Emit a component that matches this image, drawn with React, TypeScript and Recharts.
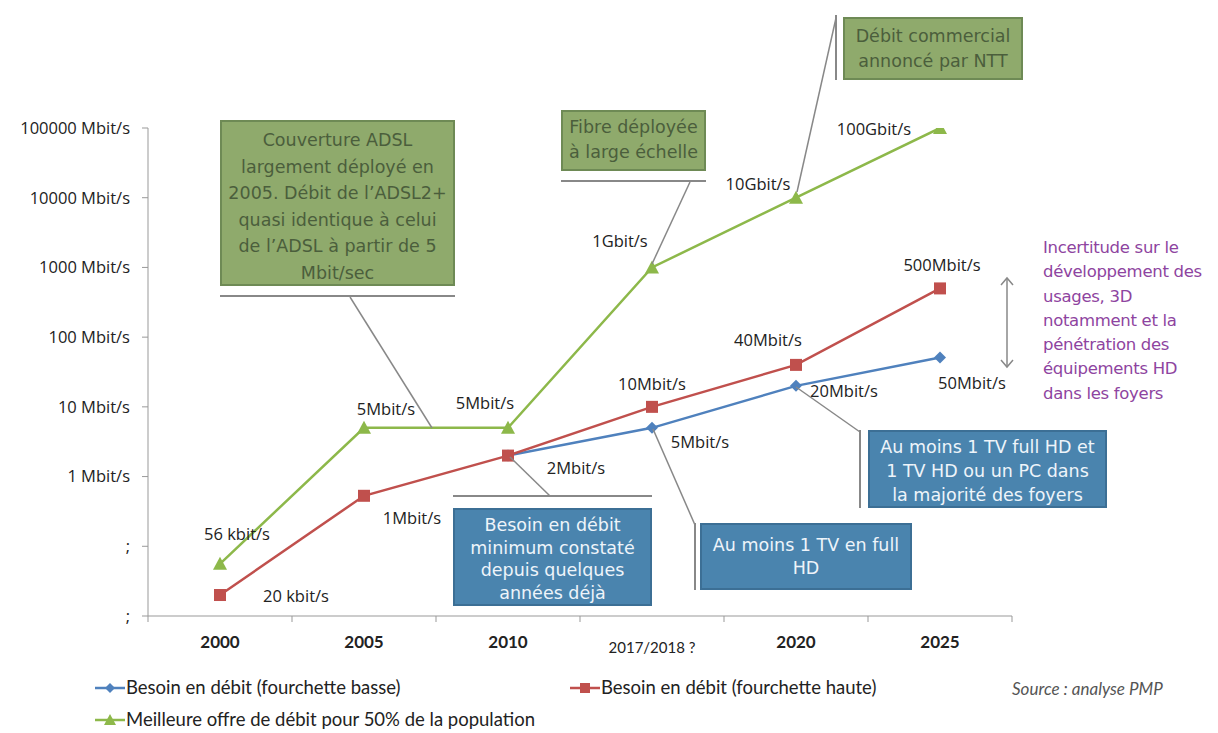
import { LineChart, Line, XAxis, YAxis, Legend, LabelList } from 'recharts';

const YEARS = ['2000', '2005', '2010', '2017/2018 ?', '2020', '2025'];
const LOW_NEED = [null, null, 2, 5, 20, 51];
const HIGH_NEED = [0.02, 0.53, 2, 10, 40, 500];
const BEST_OFFER = [0.056, 5, 5, 1000, 10000, 100000];

const LOW_LABELS = ['', '', '', '5Mbit/s', '20Mbit/s', '50Mbit/s'];
const HIGH_LABELS = ['20 kbit/s', '1Mbit/s', '2Mbit/s', '10Mbit/s', '40Mbit/s', '500Mbit/s'];
const OFFER_LABELS = ['56 kbit/s', '5Mbit/s', '5Mbit/s', '1Gbit/s', '10Gbit/s', '100Gbit/s'];

const Y_TICKS = [0.01, 0.1, 1, 10, 100, 1000, 10000, 100000];

const SERIES_NAMES = {
  low: 'Besoin en débit (fourchette basse)',
  high: 'Besoin en débit (fourchette haute)',
  offer: 'Meilleure offre de débit pour 50% de la population',
};

// label offsets from each point, [dx, dy]
const LOW_OFFSETS = [[0, 0], [0, 0], [0, 0], [48, 14], [48, 5], [32, 25]];
const HIGH_OFFSETS = [[76, 0], [48, 22], [68, 12], [0, -23], [-28, -25], [2, -24]];
const OFFER_OFFSETS = [[17, -30], [22, -19], [-23, -25], [-32, -27], [-38, -14], [-66, 0]];

const BLUE = '#4F81BD';
const RED = '#C0504D';
const GREEN = '#8DB84A';
const LABEL_FONT = '"Open Sans", Lato, sans-serif';
const CAL_FONT = 'Lato, "Open Sans", sans-serif';
const BOX_FONT = '"DejaVu Sans", sans-serif';

const data = YEARS.map((year, i) => ({
  year,
  low: LOW_NEED[i],
  high: HIGH_NEED[i],
  offer: BEST_OFFER[i],
}));

const BAND = 144;

function yTickLabel(v: number) {
  if (v < 1) return ';';
  return `${v} Mbit/s`;
}

function XTick(props: any) {
  const { x, y, payload, index } = props;
  const odd = payload.value.includes('/');
  return (
    <g>
      <line x1={x - BAND / 2} x2={x - BAND / 2} y1={y - 8} y2={y - 2} stroke="#999" />
      {index === YEARS.length - 1 && (
        <line x1={x + BAND / 2} x2={x + BAND / 2} y1={y - 8} y2={y - 2} stroke="#999" />
      )}
      <text
        x={x}
        y={odd ? y + 29 : y + 24}
        textAnchor="middle"
        fontFamily={CAL_FONT}
        fontSize={odd ? 15 : 17}
        fontWeight={odd ? 400 : 700}
        fill="#222"
      >
        {payload.value}
      </text>
    </g>
  );
}

function Triangle({ cx, cy }: any) {
  if (cx == null || cy == null) return null;
  return <path d={`M${cx},${cy - 7} L${cx + 7},${cy + 6} L${cx - 7},${cy + 6} Z`} fill={GREEN} />;
}

function Square({ cx, cy }: any) {
  if (cx == null || cy == null) return null;
  return <rect x={cx - 6} y={cy - 6} width={12} height={12} fill={RED} />;
}

function Diamond({ cx, cy }: any) {
  if (cx == null || cy == null) return null;
  return <path d={`M${cx},${cy - 6} L${cx + 6},${cy} L${cx},${cy + 6} L${cx - 6},${cy} Z`} fill={BLUE} />;
}

function makeLabel(texts: string[], offsets: number[][]) {
  return (props: any) => {
    const { x, y, index } = props;
    const t = texts[index];
    if (!t || x == null || y == null) return null;
    const [dx, dy] = offsets[index];
    return (
      <text
        x={x + dx}
        y={y + dy}
        textAnchor="middle"
        dominantBaseline="central"
        fontFamily={LABEL_FONT}
        fontSize={16.5}
        fill="#222"
      >
        {t}
      </text>
    );
  };
}

function LegendMark({ color, shape }: { color: string; shape: string }) {
  return (
    <svg width={32} height={14} style={{ verticalAlign: 'middle', marginTop: -3 }}>
      <line x1={1} x2={31} y1={7} y2={7} stroke={color} strokeWidth={2.5} />
      {shape === 'diamond' && <path d="M16,2 L21,7 L16,12 L11,7 Z" fill={color} />}
      {shape === 'square' && <rect x={11} y={2} width={10} height={10} fill={color} />}
      {shape === 'triangle' && <path d="M16,1 L22,12 L10,12 Z" fill={color} />}
    </svg>
  );
}

function renderLegend() {
  const item = { position: 'absolute' as const, whiteSpace: 'nowrap' as const, fontSize: 18.5, color: '#222', fontFamily: CAL_FONT };
  return (
    <div style={{ position: 'relative', width: 1218, height: 0 }}>
      <div style={{ ...item, left: 94, top: -2 }}>
        <LegendMark color={BLUE} shape="diamond" />
        {SERIES_NAMES.low}
      </div>
      <div style={{ ...item, left: 569, top: -2 }}>
        <LegendMark color={RED} shape="square" />
        {SERIES_NAMES.high}
      </div>
      <div style={{ ...item, left: 94, top: 30 }}>
        <LegendMark color={GREEN} shape="triangle" />
        {SERIES_NAMES.offer}
      </div>
      <div style={{ ...item, left: 1012, top: 0, fontStyle: 'italic', fontSize: 17, color: '#555' }}>
        Source : analyse PMP
      </div>
    </div>
  );
}

const greenBox = {
  position: 'absolute' as const,
  background: '#8FAA6C',
  border: '2px solid #6E8A55',
  color: '#4B5E3C',
  fontFamily: BOX_FONT,
  textAlign: 'center' as const,
  boxSizing: 'border-box' as const,
  whiteSpace: 'nowrap' as const,
};

const blueBox = {
  position: 'absolute' as const,
  background: '#4A84AE',
  border: '2px solid #3C6F95',
  color: '#EEF4FA',
  fontFamily: BOX_FONT,
  textAlign: 'center' as const,
  boxSizing: 'border-box' as const,
  whiteSpace: 'nowrap' as const,
};

export default function App() {
  return (
    <div style={{ position: 'relative', left: -8, top: -8, width: 1218, height: 733, background: '#fff', overflow: 'hidden' }}>
      <LineChart
        width={1218}
        height={733}
        data={data}
        margin={{ top: 128, right: 206, bottom: 87, left: 0 }}
      >
        <XAxis
          dataKey="year"
          tick={<XTick />}
          tickLine={false}
          axisLine={{ stroke: '#999' }}
          height={30}
          interval={0}
          padding={{ left: 72, right: 72 }}
        />
        <YAxis
          scale="log"
          domain={[0.01, 100000]}
          ticks={Y_TICKS}
          allowDataOverflow
          width={148}
          tickFormatter={yTickLabel}
          axisLine={{ stroke: '#999' }}
          tickLine={{ stroke: '#999' }}
          tickSize={6}
          tickMargin={12}
          tick={{ fontFamily: LABEL_FONT, fontSize: 16.5, fill: '#222' }}
        />
        <Legend
          content={renderLegend}
          wrapperStyle={{ position: 'absolute', left: 0, top: 678, width: 1218, height: 0 }}
        />
        <Line
          dataKey="offer"
          name={SERIES_NAMES.offer}
          stroke={GREEN}
          strokeWidth={2.5}
          dot={<Triangle />}
          activeDot={false}
          isAnimationActive={false}
        >
          <LabelList dataKey="offer" content={makeLabel(OFFER_LABELS, OFFER_OFFSETS)} />
        </Line>
        <Line
          dataKey="low"
          name={SERIES_NAMES.low}
          stroke={BLUE}
          strokeWidth={2.5}
          dot={<Diamond />}
          activeDot={false}
          isAnimationActive={false}
        >
          <LabelList dataKey="low" content={makeLabel(LOW_LABELS, LOW_OFFSETS)} />
        </Line>
        <Line
          dataKey="high"
          name={SERIES_NAMES.high}
          stroke={RED}
          strokeWidth={2.5}
          dot={<Square />}
          activeDot={false}
          isAnimationActive={false}
        >
          <LabelList dataKey="high" content={makeLabel(HIGH_LABELS, HIGH_OFFSETS)} />
        </Line>
      </LineChart>

      {/* leader lines and separators */}
      <svg width={1218} height={733} style={{ position: 'absolute', left: 0, top: 0, pointerEvents: 'none' }}>
        <g stroke="#888" strokeWidth={1.5} fill="none">
          <line x1={220} x2={455} y1={296} y2={296} strokeWidth={2} />
          <line x1={350} x2={432} y1={297} y2={428} />
          <line x1={561} x2={706} y1={181} y2={181} strokeWidth={2} />
          <line x1={690} x2={652} y1={182} y2={264} />
          <line x1={836} x2={836} y1={15} y2={80} strokeWidth={2} />
          <line x1={836} x2={797} y1={18} y2={192} />
          <line x1={453} x2={652} y1={496} y2={496} strokeWidth={2} />
          <line x1={510} x2={550} y1={457} y2={496} />
          <line x1={695} x2={695} y1={523} y2={590} strokeWidth={2} />
          <line x1={653} x2={695} y1={429} y2={525} />
          <line x1={860} x2={860} y1={430} y2={508} strokeWidth={2} />
          <line x1={796} x2={860} y1={387} y2={432} />
          <line x1={1007} x2={1007} y1={278} y2={367} />
          <path d="M1001,285 L1007,278 L1013,285" />
          <path d="M1001,360 L1007,367 L1013,360" />
        </g>
      </svg>

      <div style={{ ...greenBox, left: 220, top: 120, width: 235, height: 166, fontSize: 17.5, lineHeight: '26.5px', paddingTop: 5 }}>
        Couverture ADSL<br />largement déployé en<br />2005. Débit de l’ADSL2+<br />quasi identique à celui<br />de l’ADSL à partir de 5<br />Mbit/sec
      </div>
      <div style={{ ...greenBox, left: 561, top: 110, width: 145, height: 61, fontSize: 17.5, lineHeight: '25px', paddingTop: 3 }}>
        Fibre déployée<br />à large échelle
      </div>
      <div style={{ ...greenBox, left: 843, top: 17, width: 180, height: 63, fontSize: 17.5, lineHeight: '25px', paddingTop: 5 }}>
        Débit commercial<br />annoncé par NTT
      </div>
      <div style={{ ...blueBox, left: 453, top: 508, width: 199, height: 98, fontSize: 17.5, lineHeight: '22.5px', paddingTop: 4 }}>
        Besoin en débit<br />minimum constaté<br />depuis quelques<br />années déjà
      </div>
      <div style={{ ...blueBox, left: 700, top: 523, width: 212, height: 67, fontSize: 17.5, lineHeight: '23px', paddingTop: 9 }}>
        Au moins 1 TV en full<br />HD
      </div>
      <div style={{ ...blueBox, left: 868, top: 430, width: 239, height: 78, fontSize: 17.5, lineHeight: '24px', paddingTop: 3 }}>
        Au moins 1 TV full HD et<br />1 TV HD ou un PC dans<br />la majorité des foyers
      </div>
      <div
        style={{
          position: 'absolute',
          left: 1043,
          top: 236,
          color: '#8E44A0',
          fontFamily: BOX_FONT,
          fontSize: 16.5,
          letterSpacing: -0.3,
          lineHeight: '24.3px',
          whiteSpace: 'nowrap',
        }}
      >
        Incertitude sur le<br />développement des<br />usages, 3D<br />notamment et la<br />pénétration des<br />équipements HD<br />dans les foyers
      </div>
    </div>
  );
}
